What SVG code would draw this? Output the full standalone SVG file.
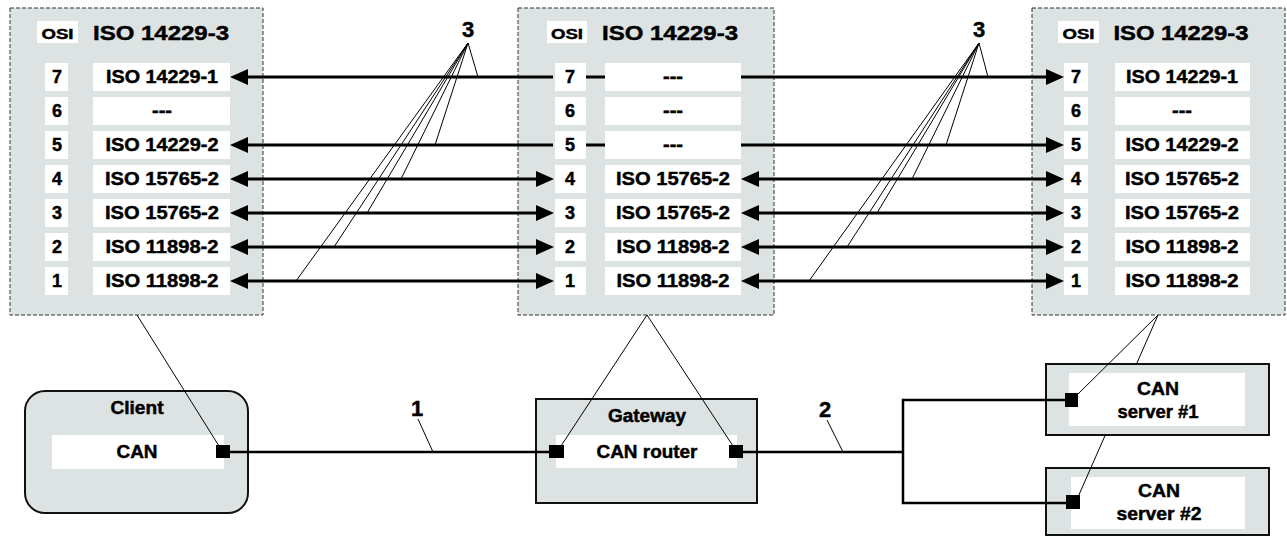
<svg xmlns="http://www.w3.org/2000/svg" width="1287" height="536" viewBox="0 0 1287 536">
<style>
.osi{fill:#dde2e2;stroke:#333;stroke-width:1;stroke-dasharray:4 2}
.wb{fill:#fff}
.t{font-family:"Liberation Sans",Arial,sans-serif;font-weight:bold;fill:#000;stroke:#000;stroke-width:0.45;text-anchor:middle}
.hd{font-size:20px}
.sm{font-size:14px}
.rw{font-size:18px}
.lb{font-size:22px}
.node{fill:#dde2e2;stroke:#111;stroke-width:2}
.port{fill:#000}
.arr{stroke:#000;stroke-width:3;fill:none}
.ar2{stroke:#000;stroke-width:3;fill:none;marker-start:url(#ah);marker-end:url(#ah)}
.bus{stroke:#000;stroke-width:2.5;fill:none}
.ldr{stroke:#000;stroke-width:1;fill:none}
</style>
<defs>
<marker id="ah" markerUnits="userSpaceOnUse" markerWidth="18" markerHeight="16" viewBox="0 0 18 16" refX="14" refY="8" orient="auto-start-reverse">
<path d="M0,0 L18,8 L0,16 z" fill="#000"/>
</marker>
</defs>

<g id="osi-client">
<rect class="osi" x="10" y="8" width="253" height="307"/>
<rect class="wb" x="37" y="21" width="41" height="22"/>
<text class="t sm" x="57.5" y="39" textLength="32" lengthAdjust="spacingAndGlyphs">OSI</text>
<text class="t hd" x="161" y="40" textLength="136" lengthAdjust="spacingAndGlyphs">ISO 14229-3</text>
<rect class="wb" x="45" y="63" width="23" height="28"/><rect class="wb" x="93" y="63" width="137" height="28"/>
<rect class="wb" x="45" y="97" width="23" height="28"/><rect class="wb" x="93" y="97" width="137" height="28"/>
<rect class="wb" x="45" y="131" width="23" height="28"/><rect class="wb" x="93" y="131" width="137" height="28"/>
<rect class="wb" x="45" y="165" width="23" height="28"/><rect class="wb" x="93" y="165" width="137" height="28"/>
<rect class="wb" x="45" y="199" width="23" height="28"/><rect class="wb" x="93" y="199" width="137" height="28"/>
<rect class="wb" x="45" y="233" width="23" height="28"/><rect class="wb" x="93" y="233" width="137" height="28"/>
<rect class="wb" x="45" y="267" width="23" height="28"/><rect class="wb" x="93" y="267" width="137" height="28"/>
<text class="t rw" x="57" y="83">7</text><text class="t rw" x="162" y="83" textLength="112" lengthAdjust="spacingAndGlyphs">ISO 14229-1</text>
<text class="t rw" x="57" y="117">6</text><text class="t rw" x="162" y="117" textLength="20" lengthAdjust="spacingAndGlyphs">---</text>
<text class="t rw" x="57" y="151">5</text><text class="t rw" x="162" y="151" textLength="113" lengthAdjust="spacingAndGlyphs">ISO 14229-2</text>
<text class="t rw" x="57" y="185">4</text><text class="t rw" x="162" y="185" textLength="114" lengthAdjust="spacingAndGlyphs">ISO 15765-2</text>
<text class="t rw" x="57" y="219">3</text><text class="t rw" x="162" y="219" textLength="114" lengthAdjust="spacingAndGlyphs">ISO 15765-2</text>
<text class="t rw" x="57" y="253">2</text><text class="t rw" x="162" y="253" textLength="113" lengthAdjust="spacingAndGlyphs">ISO 11898-2</text>
<text class="t rw" x="57" y="287">1</text><text class="t rw" x="162" y="287" textLength="113" lengthAdjust="spacingAndGlyphs">ISO 11898-2</text>
</g>

<g id="osi-gateway">
<rect class="osi" x="518" y="8" width="256" height="307"/>
<rect class="wb" x="547" y="21" width="40" height="22"/>
<text class="t sm" x="567" y="39" textLength="32" lengthAdjust="spacingAndGlyphs">OSI</text>
<text class="t hd" x="670" y="40" textLength="136" lengthAdjust="spacingAndGlyphs">ISO 14229-3</text>
<rect class="wb" x="555" y="63" width="31" height="28"/><rect class="wb" x="605" y="63" width="136" height="28"/>
<rect class="wb" x="555" y="97" width="31" height="28"/><rect class="wb" x="605" y="97" width="136" height="28"/>
<rect class="wb" x="555" y="131" width="31" height="28"/><rect class="wb" x="605" y="131" width="136" height="28"/>
<rect class="wb" x="555" y="165" width="31" height="28"/><rect class="wb" x="605" y="165" width="136" height="28"/>
<rect class="wb" x="555" y="199" width="31" height="28"/><rect class="wb" x="605" y="199" width="136" height="28"/>
<rect class="wb" x="555" y="233" width="31" height="28"/><rect class="wb" x="605" y="233" width="136" height="28"/>
<rect class="wb" x="555" y="267" width="31" height="28"/><rect class="wb" x="605" y="267" width="136" height="28"/>
<text class="t rw" x="570" y="83">7</text><text class="t rw" x="673" y="83" textLength="20" lengthAdjust="spacingAndGlyphs">---</text>
<text class="t rw" x="570" y="117">6</text><text class="t rw" x="673" y="117" textLength="20" lengthAdjust="spacingAndGlyphs">---</text>
<text class="t rw" x="570" y="151">5</text><text class="t rw" x="673" y="151" textLength="20" lengthAdjust="spacingAndGlyphs">---</text>
<text class="t rw" x="570" y="185">4</text><text class="t rw" x="673" y="185" textLength="114" lengthAdjust="spacingAndGlyphs">ISO 15765-2</text>
<text class="t rw" x="570" y="219">3</text><text class="t rw" x="673" y="219" textLength="114" lengthAdjust="spacingAndGlyphs">ISO 15765-2</text>
<text class="t rw" x="570" y="253">2</text><text class="t rw" x="673" y="253" textLength="113" lengthAdjust="spacingAndGlyphs">ISO 11898-2</text>
<text class="t rw" x="570" y="287">1</text><text class="t rw" x="673" y="287" textLength="113" lengthAdjust="spacingAndGlyphs">ISO 11898-2</text>
</g>

<g id="osi-server">
<rect class="osi" x="1032" y="8" width="253" height="307"/>
<rect class="wb" x="1058" y="21" width="41" height="22"/>
<text class="t sm" x="1078.5" y="39" textLength="32" lengthAdjust="spacingAndGlyphs">OSI</text>
<text class="t hd" x="1181" y="40" textLength="135" lengthAdjust="spacingAndGlyphs">ISO 14229-3</text>
<rect class="wb" x="1064" y="63" width="24" height="28"/><rect class="wb" x="1115" y="63" width="135" height="28"/>
<rect class="wb" x="1064" y="97" width="24" height="28"/><rect class="wb" x="1115" y="97" width="135" height="28"/>
<rect class="wb" x="1064" y="131" width="24" height="28"/><rect class="wb" x="1115" y="131" width="135" height="28"/>
<rect class="wb" x="1064" y="165" width="24" height="28"/><rect class="wb" x="1115" y="165" width="135" height="28"/>
<rect class="wb" x="1064" y="199" width="24" height="28"/><rect class="wb" x="1115" y="199" width="135" height="28"/>
<rect class="wb" x="1064" y="233" width="24" height="28"/><rect class="wb" x="1115" y="233" width="135" height="28"/>
<rect class="wb" x="1064" y="267" width="24" height="28"/><rect class="wb" x="1115" y="267" width="135" height="28"/>
<text class="t rw" x="1076" y="83">7</text><text class="t rw" x="1182" y="83" textLength="112" lengthAdjust="spacingAndGlyphs">ISO 14229-1</text>
<text class="t rw" x="1076" y="117">6</text><text class="t rw" x="1182" y="117" textLength="20" lengthAdjust="spacingAndGlyphs">---</text>
<text class="t rw" x="1076" y="151">5</text><text class="t rw" x="1182" y="151" textLength="113" lengthAdjust="spacingAndGlyphs">ISO 14229-2</text>
<text class="t rw" x="1076" y="185">4</text><text class="t rw" x="1182" y="185" textLength="114" lengthAdjust="spacingAndGlyphs">ISO 15765-2</text>
<text class="t rw" x="1076" y="219">3</text><text class="t rw" x="1182" y="219" textLength="114" lengthAdjust="spacingAndGlyphs">ISO 15765-2</text>
<text class="t rw" x="1076" y="253">2</text><text class="t rw" x="1182" y="253" textLength="113" lengthAdjust="spacingAndGlyphs">ISO 11898-2</text>
<text class="t rw" x="1076" y="287">1</text><text class="t rw" x="1182" y="287" textLength="113" lengthAdjust="spacingAndGlyphs">ISO 11898-2</text>
</g>

<g id="client">
<rect class="node" x="25" y="391" width="223" height="122" rx="20" ry="20"/>
<text class="t rw" x="137" y="414" textLength="53" lengthAdjust="spacingAndGlyphs">Client</text>
<rect class="wb" x="52" y="435" width="172" height="34"/>
<text class="t rw" x="137" y="458" textLength="41" lengthAdjust="spacingAndGlyphs">CAN</text>
<rect class="port" x="216" y="445" width="14" height="13"/>
</g>

<g id="gateway">
<rect class="node" x="536" y="399" width="221" height="104"/>
<text class="t rw" x="647" y="422" textLength="78" lengthAdjust="spacingAndGlyphs">Gateway</text>
<rect class="wb" x="556" y="435" width="181" height="33"/>
<text class="t rw" x="647" y="458" textLength="101" lengthAdjust="spacingAndGlyphs">CAN router</text>
<rect class="port" x="549" y="445" width="15" height="13"/>
<rect class="port" x="729" y="445" width="14" height="13"/>
</g>

<g id="server1">
<rect class="node" x="1046" y="364" width="223" height="71"/>
<rect class="wb" x="1069" y="373" width="176" height="53"/>
<text class="t rw" x="1158" y="395" textLength="42" lengthAdjust="spacingAndGlyphs">CAN</text>
<text class="t rw" x="1158" y="418" textLength="81" lengthAdjust="spacingAndGlyphs">server #1</text>
<rect class="port" x="1065" y="393" width="13" height="14"/>
</g>

<g id="server2">
<rect class="node" x="1046" y="468" width="223" height="67"/>
<rect class="wb" x="1071" y="477" width="174" height="52"/>
<text class="t rw" x="1159" y="497" textLength="42" lengthAdjust="spacingAndGlyphs">CAN</text>
<text class="t rw" x="1159" y="520" textLength="85" lengthAdjust="spacingAndGlyphs">server #2</text>
<rect class="port" x="1066" y="495" width="14" height="14"/>
</g>

<g id="connectors">
<path class="arr" d="M234,77 H553" marker-start="url(#ah)"/>
<path class="arr" d="M586,77 H605"/>
<path class="arr" d="M741,77 H1060" marker-end="url(#ah)"/>
<path class="arr" d="M234,145 H553" marker-start="url(#ah)"/>
<path class="arr" d="M586,145 H605"/>
<path class="arr" d="M741,145 H1060" marker-end="url(#ah)"/>
<path class="ar2" d="M234,179 H550"/>
<path class="ar2" d="M745,179 H1060"/>
<path class="ar2" d="M234,213 H550"/>
<path class="ar2" d="M745,213 H1060"/>
<path class="ar2" d="M234,247 H550"/>
<path class="ar2" d="M745,247 H1060"/>
<path class="ar2" d="M234,281 H550"/>
<path class="ar2" d="M745,281 H1060"/>
<path class="bus" d="M230,452 H549"/>
<path class="bus" d="M743,452 H903"/>
<path class="bus" d="M1065,400 H903 V503 H1066"/>
<path class="ldr" d="M468,43 L478,77 M468,43 L435,145 M468,43 L401,179 M468,43 L367,213 M468,43 L334,247 M468,43 L296,281"/>
<path class="ldr" d="M979,43 L988,77 M979,43 L946,145 M979,43 L912,179 M979,43 L877,213 M979,43 L847,247 M979,43 L809,281"/>
<path class="ldr" d="M418,419 L433,452"/>
<path class="ldr" d="M827,420 L843,452"/>
<path class="ldr" d="M137,315 L219,446"/>
<path class="ldr" d="M647,315 L561,446 M647,315 L733,446"/>
<path class="ldr" d="M1158,315 L1076,396 M1158,315 L1136.5,364 M1105.3,435 L1078,497"/>
<text class="t lb" x="468" y="37">3</text>
<text class="t lb" x="979" y="37">3</text>
<text class="t lb" x="417" y="416">1</text>
<text class="t lb" x="825" y="417">2</text>
</g>
</svg>
